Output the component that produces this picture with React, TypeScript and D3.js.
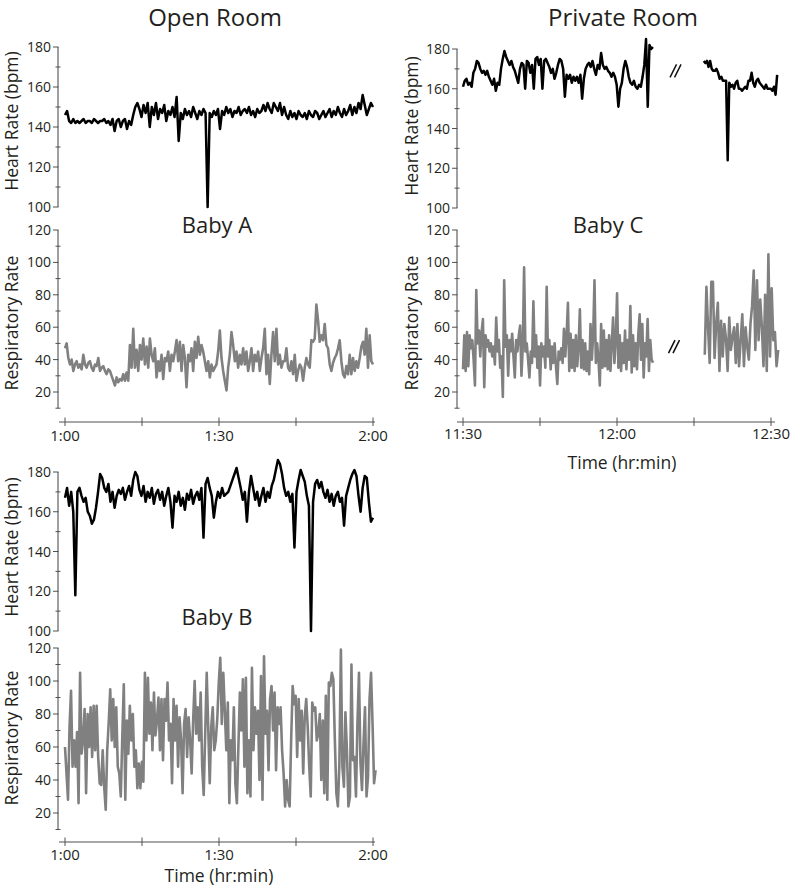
import React from "react";
import * as d3 from "d3";

// ---------- data ----------
// Baby A, 1:00-2:00, heart rate (bpm)
const HR_A = [146,148,143,142,144,142,143,142,143,144,142,143,143,142,144,143,142,143,143,144,142,143,141,144,138,143,144,140,143,144,139,143,141,
146,150,152,149,
145,151,147,152,140,150,146,152,144,149,147,151,143,148,146,150,145,
155,133,147,
144,149,146,148,145,150,147,144,148,146,149,147,
100,
147,145,148,146,149,
139,
148,146,150,147,149,145,148,147,150,146,148,149,147,150,146,148,145,149,147,148,
151,148,152,149,147,152,150,148,152,146,150,
146,144,148,145,147,144,148,146,145,147,144,148,146,145,148,147,144,146,148,145,147,149,145,148,146,150,147,145,149,146,
148,151,146,150,147,152,149,156,151,146,149,152,150];

// Baby A respiratory rate
const RR_A = [47,50,41,37,40,33,37,39,35,37,34,43,37,35,38,39,35,33,37,36,41,33,35,36,33,31,34,33,30,27,24,29,26,28,27,31,27,32,27,49,35,59,35,46,33,49,40,53,37,48,35,53,43,39,47,29,39,33,43,28,41,39,45,33,43,39,45,52,39,51,33,49,41,23,43,39,47,33,51,41,54,43,49,45,39,33,39,29,37,33,35,37,45,58,41,33,27,21,35,43,57,49,39,45,35,43,37,47,37,45,33,39,47,33,43,39,45,33,41,47,59,31,43,25,43,57,39,59,37,43,35,39,39,47,35,33,39,31,43,27,33,37,35,27,35,41,37,35,52,51,53,74,64,51,55,52,62,49,47,37,33,38,41,43,47,52,39,31,29,36,31,43,31,41,33,39,35,41,48,51,43,59,35,55,39,37];

// Baby B heart rate
const HR_B = [167,172,163,170,160,118,170,
172,168,165,167,160,158,154,
156,162,170,
179,177,
172,170,174,165,170,162,168,171,169,172,166,170,173,168,176,
180,178,
171,168,173,165,170,167,172,164,169,171,166,170,163,168,172,165,152,
168,165,170,163,167,161,169,166,171,164,168,170,166,172,
147,174,177,172,
168,157,165,170,167,172,168,169,170,173,176,179,
182,177,172,166,170,
155,170,178,172,
166,170,163,168,172,165,170,167,173,176,
181,186,184,179,
172,168,170,165,169,
142,170,176,
181,178,175,168,163,
100,165,
174,176,172,175,170,167,171,165,169,163,168,170,165,167,
153,168,172,176,179,
181,178,168,160,
172,178,177,165,155,157];

// Baby B respiratory rate
const RR_B = [60,44,28,72,94,48,64,48,69,26,
105,56,64,83,32,80,60,84,54,85,
58,85,54,38,37,58,36,22,58,75,
95,64,89,60,84,48,44,30,66,98,
28,76,56,85,64,80,48,58,35,50,
35,51,39,105,64,102,68,87,58,93,
67,76,90,58,89,52,89,76,99,64,
74,38,89,64,85,48,78,64,32,74,
83,54,78,64,44,76,100,68,84,64,
93,48,31,68,105,72,38,72,84,58,
64,77,99,114,74,105,82,58,87,26,64,
52,84,38,26,60,93,70,101,48,102,
32,64,30,108,58,84,68,82,40,103,
28,115,68,82,46,89,97,70,93,46,
84,74,84,58,44,24,40,28,24,64,
97,86,91,54,89,64,82,44,78,89,
72,48,30,87,82,84,64,68,80,40,
76,32,91,28,99,97,105,101,64,32,
24,50,119,48,36,81,58,24,30,110,
52,54,30,75,105,50,34,62,84,30,
42,89,105,74,38,46];

// Baby C heart rate, before and after the break
const HR_C1 = [161,164,165,162,163,161,168,170,174,173,170,168,169,167,169,166,164,162,165,159,163,162,170,175,179,176,174,172,174,171,169,166,163,170,173,172,160,174,173,168,172,160,175,176,172,175,160,174,175,173,171,168,170,165,168,172,175,174,170,156,167,165,167,163,166,164,166,163,167,155,165,170,172,173,171,174,170,167,172,170,178,172,170,171,169,168,166,168,166,162,151,160,163,170,174,171,166,163,162,164,161,160,162,161,166,172,185,151,182,180,181];
const HR_C2 = [174,173,174,171,174,170,169,169,170,168,165,166,164,164,164,124,163,161,162,160,163,164,160,160,159,160,161,160,164,164,168,163,161,164,165,163,162,161,160,162,160,160,160,159,161,157,167];

// Baby C respiratory rate, before and after the break
const RR_C1 = [34,55,33,57,36,55,47,52,40,24,83,50,58,42,57,65,23,55,48,52,45,50,42,48,37,66,45,52,35,42,17,89,48,55,30,52,45,56,42,29,52,45,55,61,30,48,97,45,50,40,29,45,38,76,42,55,35,48,24,50,42,48,35,85,42,52,34,48,38,50,36,25,45,40,47,38,59,42,55,75,33,56,35,52,33,55,36,48,71,35,52,34,50,33,45,31,62,40,55,89,38,50,40,24,62,35,58,36,52,34,55,33,50,66,38,52,81,35,55,33,50,38,58,34,52,40,73,32,55,36,50,34,56,68,40,62,29,50,42,65,33,52,40,38];
const RR_C2 = [43,85,60,38,88,88,41,62,75,33,64,42,62,53,33,66,46,54,60,38,62,36,52,68,36,60,48,40,62,73,95,46,89,52,77,60,36,80,33,105,42,84,52,57,36,46];

// time spans (minutes after the first tick) of each recorded segment
const SPAN_AB = [0, 60];
const SPAN_RR_B = [0, 60.5];
const SPAN_C1 = [0, 37];
const SPAN_HR_C2 = [46.9, 61.2];
const SPAN_RR_C2 = [47.1, 61.4];

// axis ticks
const X_TICKS = [0, 15, 30, 45, 60];
const X_LABELS_AB = ["1:00", "", "1:30", "", "2:00"];
const X_LABELS_C = ["11:30", "", "12:00", "", "12:30"];
const HR_MAJOR = [100, 120, 140, 160, 180];
const RR_MAJOR = [20, 40, 60, 80, 100, 120];

// ---------- styling ----------
const FONT = "'Open Sans', 'Noto Sans', sans-serif";
const TEXT = "#231f20";
const AXIS = "#505050";
const GRAY = "#808080";

type Scale = d3.ScaleLinear<number, number>;

function seriesPath(vals: number[], span: number[], x: Scale, y: Scale) {
  const n = vals.length;
  const gen = d3
    .line<number>()
    .x((_, i) => x(span[0] + (i * (span[1] - span[0])) / (n - 1)))
    .y((d) => y(d));
  return gen(vals) || "";
}

function YAxis({ x, y, min, max, major }: { x: number; y: Scale; min: number; max: number; major: number[] }) {
  const all = d3.range(min, max + 0.01, 10);
  return (
    <g>
      <line x1={x} x2={x} y1={y(max)} y2={y(min)} stroke={AXIS} strokeWidth={1.1} />
      {all.map((v) => {
        const isMajor = major.includes(v);
        return (
          <line
            key={v}
            x1={x - (isMajor ? 5 : 2.5)}
            x2={x + (isMajor ? 0.5 : 2.5)}
            y1={y(v)}
            y2={y(v)}
            stroke={AXIS}
            strokeWidth={1}
          />
        );
      })}
      {major.map((v) => (
        <text key={"l" + v} x={x - 7} y={y(v)} dy="0.36em" textAnchor="end" fontSize={14} fill={TEXT} fontFamily={FONT}>
          {v}
        </text>
      ))}
    </g>
  );
}

function XAxis({ x, y, x1, x2, labels, labelY }: { x: Scale; y: number; x1: number; x2: number; labels: string[]; labelY: number }) {
  return (
    <g>
      <line x1={x1} x2={x2} y1={y} y2={y} stroke={AXIS} strokeWidth={1.1} />
      {X_TICKS.map((t) => (
        <line key={t} x1={x(t)} x2={x(t)} y1={y - 4.5} y2={y + 4} stroke={AXIS} strokeWidth={1} />
      ))}
      {X_TICKS.map((t, i) =>
        labels[i] ? (
          <text key={"l" + t} x={x(t)} y={labelY} textAnchor="middle" fontSize={15} fill={TEXT} fontFamily={FONT}>
            {labels[i]}
          </text>
        ) : null
      )}
    </g>
  );
}

function YLabel({ x, cy, text }: { x: number; cy: number; text: string }) {
  return (
    <text transform={`translate(${x},${cy}) rotate(-90)`} textAnchor="middle" fontSize={17.5} fill={TEXT} fontFamily={FONT}>
      {text}
    </text>
  );
}

function BreakMark({ cx, cy }: { cx: number; cy: number }) {
  return (
    <g stroke="#111" strokeWidth={1.5}>
      <line x1={cx - 6} y1={cy + 6.5} x2={cx + 0.5} y2={cy - 6.5} />
      <line x1={cx - 1.5} y1={cy + 6.5} x2={cx + 5} y2={cy - 6.5} />
    </g>
  );
}

export default function App() {
  const xAB = d3.scaleLinear().domain([0, 60]).range([65, 373]);
  const xC = d3.scaleLinear().domain([0, 60]).range([463, 771]);

  const yHrA = d3.scaleLinear().domain([100, 180]).range([207, 47]);
  const yRrA = d3.scaleLinear().domain([20, 120]).range([392, 230]);
  const yHrB = d3.scaleLinear().domain([100, 180]).range([631, 472]);
  const yRrB = d3.scaleLinear().domain([20, 120]).range([813, 648]);
  const yHrC = d3.scaleLinear().domain([100, 180]).range([208, 49]);
  const yRrC = d3.scaleLinear().domain([20, 120]).range([392, 230]);

  const hrStyle = { fill: "none", stroke: "#000", strokeWidth: 2.5, strokeLinejoin: "round" as const };
  const rrStyle = { fill: "none", stroke: GRAY, strokeWidth: 2.6, strokeLinejoin: "round" as const };

  return (
    <svg width={800} height={891} style={{ position: "absolute", left: 0, top: 0, background: "#fff" }}>
      <rect x={0} y={0} width={800} height={891} fill="#fff" />

      {/* titles */}
      <text x={215} y={26} textAnchor="middle" fontSize={24} fill={TEXT} fontFamily={FONT}>Open Room</text>
      <text x={623} y={26} textAnchor="middle" fontSize={24} fill={TEXT} fontFamily={FONT}>Private Room</text>

      {/* ---- Baby A ---- */}
      <YAxis x={58} y={yHrA} min={100} max={180} major={HR_MAJOR} />
      <YLabel x={18} cy={121} text="Heart Rate (bpm)" />
      <path d={seriesPath(HR_A, SPAN_AB, xAB, yHrA)} {...hrStyle} />
      <text x={217} y={233} textAnchor="middle" fontSize={22} fill={TEXT} fontFamily={FONT}>Baby A</text>
      <YAxis x={58} y={yRrA} min={10} max={120} major={RR_MAJOR} />
      <YLabel x={18} cy={323} text="Respiratory Rate" />
      <path d={seriesPath(RR_A, SPAN_AB, xAB, yRrA)} {...rrStyle} />
      <XAxis x={xAB} y={422} x1={59} x2={375} labels={X_LABELS_AB} labelY={441} />

      {/* ---- Baby B ---- */}
      <YAxis x={58} y={yHrB} min={100} max={180} major={HR_MAJOR} />
      <YLabel x={18} cy={547} text="Heart Rate (bpm)" />
      <path d={seriesPath(HR_B, SPAN_AB, xAB, yHrB)} {...hrStyle} />
      <text x={217} y={625} textAnchor="middle" fontSize={22} fill={TEXT} fontFamily={FONT}>Baby B</text>
      <YAxis x={58} y={yRrB} min={10} max={120} major={RR_MAJOR} />
      <YLabel x={18} cy={738} text="Respiratory Rate" />
      <path d={seriesPath(RR_B, SPAN_RR_B, xAB, yRrB)} {...rrStyle} />
      <XAxis x={xAB} y={842} x1={59} x2={375} labels={X_LABELS_AB} labelY={860} />
      <text x={219} y={882} textAnchor="middle" fontSize={17.5} fill={TEXT} fontFamily={FONT}>Time (hr:min)</text>

      {/* ---- Baby C ---- */}
      <YAxis x={457} y={yHrC} min={100} max={180} major={HR_MAJOR} />
      <YLabel x={418} cy={126} text="Heart Rate (bpm)" />
      <path d={seriesPath(HR_C1, SPAN_C1, xC, yHrC)} {...hrStyle} />
      <path d={seriesPath(HR_C2, SPAN_HR_C2, xC, yHrC)} {...hrStyle} />
      <BreakMark cx={xC(41.5)} cy={yHrC(169)} />
      <text x={608} y={233} textAnchor="middle" fontSize={22} fill={TEXT} fontFamily={FONT}>Baby C</text>
      <YAxis x={457} y={yRrC} min={10} max={120} major={RR_MAJOR} />
      <YLabel x={418} cy={323} text="Respiratory Rate" />
      <path d={seriesPath(RR_C1, SPAN_C1, xC, yRrC)} {...rrStyle} />
      <path d={seriesPath(RR_C2, SPAN_RR_C2, xC, yRrC)} {...rrStyle} />
      <BreakMark cx={xC(41.2)} cy={yRrC(48)} />
      <XAxis x={xC} y={422} x1={457} x2={775} labels={X_LABELS_C} labelY={439} />
      <text x={622} y={469} textAnchor="middle" fontSize={17.5} fill={TEXT} fontFamily={FONT}>Time (hr:min)</text>
    </svg>
  );
}
